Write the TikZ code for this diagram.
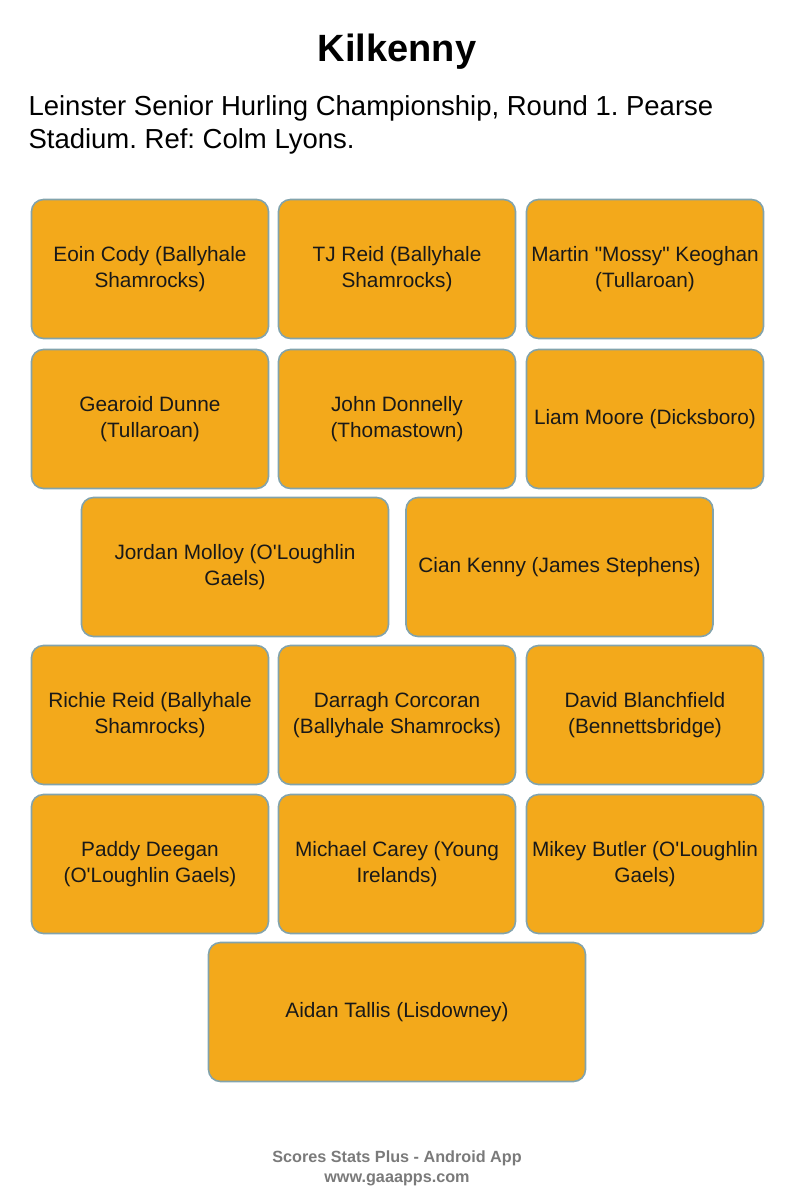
\documentclass[tikz,border=0pt]{standalone}
\usepackage{fontspec}
\setmainfont{Liberation Sans}[Ligatures=TeXOff]
\usepackage{tikz}
\frenchspacing
\definecolor{boxfill}{HTML}{F3A91B}
\definecolor{boxline}{HTML}{82A3AC}
\definecolor{footgray}{HTML}{7A7A7A}
\tikzstyle{player}=[rectangle,rounded corners=12pt,fill=boxfill,draw=boxline,line width=1.6pt,align=center,text=black!90,font=\fontsize{20.8}{26}\selectfont,inner sep=0pt]
\tikzstyle{smallbox}=[player,minimum width=237pt,minimum height=139pt]
\tikzstyle{widebox}=[player,minimum width=307pt,minimum height=139pt]
\tikzstyle{footer}=[font=\bfseries\fontsize{16.2}{20}\selectfont,text=footgray,align=center]

\begin{document}
\begin{tikzpicture}[x=1pt,y=-1pt]

    \useasboundingbox (0,0) rectangle (795,1200);

    \node[font=\bfseries\fontsize{38}{44}\selectfont] (title) at (397,52) {Kilkenny};
    \node[anchor=west,align=left,font=\fontsize{27.5}{33}\selectfont] (sub) at (25,125)
        {Leinster Senior Hurling Championship, Round 1. Pearse\\Stadium. Ref: Colm Lyons.};

    % three to a row
    \foreach \x/\y/\name/\txt in {150/269/cody/{Eoin Cody (Ballyhale\\Shamrocks)},
        397/269/reid/{TJ Reid (Ballyhale\\Shamrocks)},
        645/269/keoghan/{Martin "Mossy" Keoghan\\(Tullaroan)},
        150/419/dunne/{Gearoid Dunne\\(Tullaroan)},
        397/419/donnelly/{John Donnelly\\(Thomastown)},
        645/419/moore/{Liam Moore (Dicksboro)},
        150/715/rreid/{Richie Reid (Ballyhale\\Shamrocks)},
        397/715/corcoran/{Darragh Corcoran\\(Ballyhale Shamrocks)},
        645/715/blanchfield/{David Blanchfield\\(Bennettsbridge)},
        150/864/deegan/{Paddy Deegan\\(O'Loughlin Gaels)},
        397/864/carey/{Michael Carey (Young\\Irelands)},
        645/864/butler/{Mikey Butler (O'Loughlin\\Gaels)}}
        \node[smallbox] (\name) at (\x,\y) {\txt};

    % midfield
    \foreach \x/\y/\name/\txt in {235/567/molloy/{Jordan Molloy (O'Loughlin\\Gaels)},
        559.5/567/kenny/{Cian Kenny (James Stephens)}}
        \node[widebox] (\name) at (\x,\y) {\txt};

    % keeper
    \node[player,minimum width=377pt,minimum height=139pt] (tallis) at (397,1012) {Aidan Tallis (Lisdowney)};

    \node[footer] (foot) at (397,1168) {Scores Stats Plus - Android App\\www.gaaapps.com};

\end{tikzpicture}
\end{document}
